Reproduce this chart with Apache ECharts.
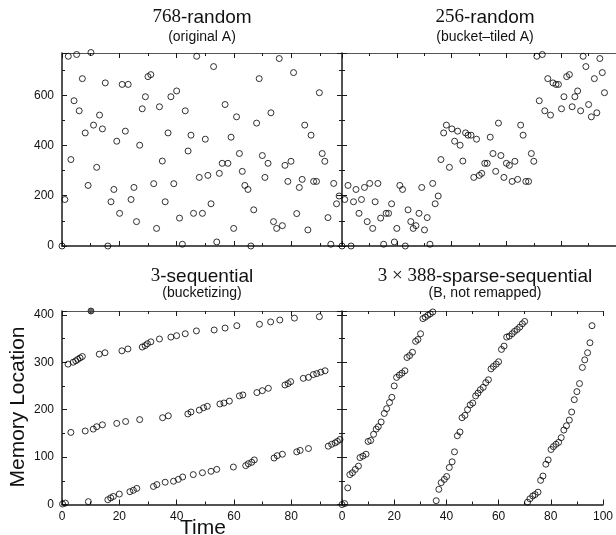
<!DOCTYPE html>
<html>
<head>
<meta charset="utf-8">
<script src="https://cdn.jsdelivr.net/npm/echarts@6/dist/echarts.min.js"></script>
<style>
html,body{margin:0;padding:0;background:#fff;}
#c{width:616px;height:535px;}
</style>
</head>
<body>
<div id="c"></div>
<script>
// ---- data: [time, memory location] ----
const origA = [[0,0],[1,185],[2.2,755],[3.1,344],[4.2,578],[5.1,762],[6,538],[7.1,666],[8.1,450],[9.1,241],[10.1,770],[11,481],[12.1,313],[13.1,521],[14.1,466],[15.1,649],[16,0],[17.1,176],[18.1,225],[19.1,417],[20.1,130],[21,643],[22.1,457],[23.1,643],[24.1,185],[25.1,233],[26,97],[27.1,401],[28,546],[29.1,594],[30,674],[31,682],[32,248],[33,70],[34,554],[35,338],[36,176],[37,450],[38,594],[39,248],[40,617],[41,111],[42,7],[43,538],[44,378],[45,441],[45.9,130],[47,755],[47.9,273],[49,130],[50,425],[50.9,281],[52,168],[52.9,714],[54,16],[54.9,289],[55.9,329],[56.9,563],[57.9,329],[59,433],[59.9,70],[60.9,514],[61.9,368],[62.9,297],[63.8,241],[64.9,225],[65.9,0],[66.9,144],[67.9,489],[68.8,666],[69.9,360],[70.8,273],[71.9,329],[72.9,530],[73.8,97],[74.9,70],[75.8,746],[76.9,81],[77.8,321],[78.8,257],[79.9,337],[80.8,690],[81.9,129],[82.8,233],[83.8,265],[84.7,481],[85.8,64],[86.9,441],[87.8,257],[88.8,257],[89.8,610],[90.8,368],[91.7,337],[92.8,113],[93.8,7],[94.8,249],[95.8,168],[96.7,199]];
const bucketA = [[0,0],[1,185],[2.2,241],[3.3,0],[4.2,176],[5.1,225],[6.2,130],[7.1,185],[8.2,233],[9.2,97],[10.1,249],[11.2,70],[12.1,176],[13.1,249],[14.1,111],[15.2,7],[16.1,130],[17,130],[18.1,168],[19.1,16],[20,70],[21.1,241],[22.1,225],[23.1,0],[24.1,144],[25.1,97],[26,70],[27,81],[28.1,130],[29.1,233],[30.1,64],[31.1,113],[32.1,7],[33.1,249],[34,168],[35.1,199],[36.1,344],[37.1,450],[38.1,481],[39.2,313],[40.1,466],[41.1,417],[42.2,457],[43.1,401],[44.1,338],[45.1,450],[46,441],[47.1,441],[48.1,273],[49.1,425],[50.1,281],[51,289],[52.1,329],[53,329],[54.1,433],[55.1,368],[56.1,297],[57.1,489],[58,360],[59.1,273],[60,329],[61.1,321],[62.1,257],[63.1,337],[64.1,265],[65.2,481],[66.1,441],[67.1,257],[68.1,257],[69.1,368],[70,337],[71.1,755],[72,578],[73.1,762],[74,538],[75.1,666],[76.1,521],[77,649],[78.1,643],[79,643],[80.1,546],[81,594],[82,674],[83,682],[84,554],[85,594],[86,617],[87.1,538],[88,755],[89,714],[90,563],[91,514],[92.1,666],[93,530],[94.1,746],[95,690],[95.8,610]];
const seqLow = [[0.2,1],[1.2,3],[9.2,6],[16,10],[17,14],[17.9,17],[20,22],[23.7,27],[24.9,30],[26.1,34],[31.9,38],[33.1,42],[36,47],[38.9,49],[40.6,53],[42.1,58],[45.8,63],[49,67],[52,70],[54,74],[59.8,79],[64.1,82],[65,86],[66.2,89],[67.1,94],[74,98],[75.1,103],[76.9,106],[81.9,111],[83.1,114],[86,118],[92.9,123],[94.1,127],[95.3,130],[96.1,133],[97,137]];
const seqMid = [[3.1,152],[8.1,155],[10.9,159],[12.1,164],[14.1,168],[19.1,171],[22.2,175],[27.1,179],[35.1,183],[37.1,187],[43.9,191],[45,195],[47.9,199],[49.4,204],[50.7,207],[55.1,212],[56.5,214],[58.4,218],[61.9,229],[63.1,231],[68,236],[69.9,240],[72,245],[77.8,252],[78.9,255],[79.8,259],[84.2,266],[86,268],[87.7,274],[88.9,276],[90.3,279],[91.8,282]];
const seqHigh = [[2.1,296],[3.9,300],[4.8,303],[5.5,306],[6.3,309],[7.1,312],[13,317],[15,320],[20.9,324],[23,328],[28,332],[29,335],[29.8,339],[31,343],[34,349],[38,353],[40,356],[43,360],[46.9,366],[53.1,368],[56.9,372],[61,377],[68.9,380],[72.8,385],[76,389],[81.1,393],[89.8,396]];
const seqMark = [[10.1,408]];
const sparse1 = [[0,0],[1,2],[2.2,35],[3,63],[4,67],[5.1,74],[6.3,81],[6.9,99],[8,102],[9.2,106],[10,133],[11,135],[12.1,148],[13.1,159],[13.9,164],[15,174],[16.2,192],[17.1,202],[18.2,215],[19.1,226],[20,250],[20.9,268],[22,273],[23,277],[24.1,282],[24.9,310],[25.9,314],[27,321],[28.2,344],[29.1,348],[30.1,360],[31,392],[31.9,395],[32.9,399],[33.8,402],[34.8,406]];
const sparse2 = [[36.1,8],[37.1,32],[38,46],[39.2,53],[40.1,59],[41.1,78],[42.2,90],[43.1,111],[44.2,145],[45.2,153],[46,183],[47.1,188],[48.1,200],[49.1,210],[50.1,214],[51.2,229],[52.1,235],[53,242],[54.1,247],[55.1,257],[56.1,263],[57.1,286],[58,291],[59.1,296],[60,301],[61.1,327],[62.1,334],[63.1,353],[64.1,355],[65.2,360],[66.1,365],[67.1,369],[68.1,374],[69.1,381],[70,386]];
const sparse3 = [[71.1,5],[72,12],[73.1,18],[74,21],[75.1,26],[76.1,51],[77,60],[78.1,85],[79,94],[80.1,116],[81,122],[82,127],[83,131],[84,141],[85,157],[86,166],[87.1,178],[88,195],[89,221],[90,238],[91,255],[92.1,289],[93,305],[94.1,320],[95,341],[95.8,377]];

const titleMain = [['768','-random'],['256','-random'],['3','-sequential'],['3 \u00d7 388','-sparse-sequential']];
const titleSub = ['(original A)','(bucket\u2013tiled A)','(bucketizing)','(B, not remapped)'];
const xTickStep = [20, 10];       // major, minor
const yTickTop = [200, 100];
const yTickBottom = [100, 50];

// ---- layout ----
const SANS = '"Liberation Sans", Arial, sans-serif';
const SERIF = '"Liberation Serif", "DejaVu Serif", serif';
const grids = [
  {left:62, top:53, width:280, height:193, xmax:97.7, ymax:768, yt:yTickTop, xl:false, yl:true, rightMirror:true},
  {left:342, top:53, width:286, height:193, xmax:100, ymax:768, yt:yTickTop, xl:false, yl:false, rightMirror:false},
  {left:62, top:311, width:280, height:193.5, xmax:97.7, ymax:408, yt:yTickBottom, xl:true, yl:true, rightMirror:true},
  {left:342, top:311, width:286, height:193.5, xmax:100, ymax:408, yt:yTickBottom, xl:true, yl:false, rightMirror:false}
];

const xAxes = [], yAxes = [], gridOpts = [];
const axisBlack = {color:'#1a1a1a', width:1.5};
const axisTop = {color:'#555', width:1.2};
const lblStyle = {fontFamily:'Liberation Sans', fontSize:12, color:'#111'};
const xIdx = [], yIdx = [];
grids.forEach((g, gi) => {
  gridOpts.push({left:g.left, top:g.top, width:g.width, height:g.height, containLabel:false});
  const mkX = (pos, step, len, line, label) => ({
    type:'value', gridIndex:gi, position:pos, min:0, max:g.xmax, interval:step,
    axisLine:{show:!!line, onZero:false, lineStyle:line||{}},
    axisTick:{show:true, inside:true, length:len, lineStyle:{color:'#1a1a1a', width:1}},
    axisLabel:{show:!!label, margin:6, ...lblStyle, formatter:v => (v % 20 === 0 ? String(v) : '')},
    splitLine:{show:false}
  });
  const mkY = (pos, step, len, line, label) => ({
    type:'value', gridIndex:gi, position:pos, min:0, max:g.ymax, interval:step,
    axisLine:{show:!!line, onZero:false, lineStyle:line||{}},
    axisTick:{show:true, inside:true, length:len, lineStyle:{color:'#1a1a1a', width:1}},
    axisLabel:{show:!!label, margin:8, ...lblStyle, formatter:v => (v % g.yt[0] === 0 ? String(v) : '')},
    splitLine:{show:false}
  });
  xIdx.push(xAxes.length);
  xAxes.push(mkX('bottom', xTickStep[0], 5, axisBlack, g.xl));
  xAxes.push(mkX('bottom', xTickStep[1], 3, null, false));
  xAxes.push(mkX('top', xTickStep[0], 5, axisTop, false));
  xAxes.push(mkX('top', xTickStep[1], 3, null, false));
  yIdx.push(yAxes.length);
  yAxes.push(mkY('left', g.yt[0], 5, axisBlack, g.yl));
  yAxes.push(mkY('left', g.yt[1], 3, null, false));
  if (g.rightMirror) {
    yAxes.push(mkY('right', g.yt[0], 5, null, false));
    yAxes.push(mkY('right', g.yt[1], 3, null, false));
  }
});

const hollow = {color:'rgba(0,0,0,0)', borderColor:'#000', borderWidth:1};
const sc = (data, gi, extra) => Object.assign({
  type:'scatter', xAxisIndex:xIdx[gi], yAxisIndex:yIdx[gi], data:data,
  symbol:'circle', symbolSize:6, itemStyle:hollow, clip:false, silent:true, animation:false
}, extra || {});

const series = [
  sc(origA, 0), sc(bucketA, 1),
  sc(seqLow, 2), sc(seqMid, 2), sc(seqHigh, 2),
  sc(seqMark, 2, {itemStyle:{color:'#444', borderColor:'#222', borderWidth:1}}),
  sc(sparse1, 3), sc(sparse2, 3), sc(sparse3, 3)
];

// measure text widths to place serif and sans parts of each title side by side
const mctx = document.createElement('canvas').getContext('2d');
function textW(str, font) { mctx.font = font; return mctx.measureText(str).width; }
const fSerif = '19px ' + SERIF, fSans = '19px ' + SANS;

const graphics = [];
const tpos = [[202,17.5,37],[485,17.5,37],[202,276.5,293.5],[485,276.5,293.5]];
titleMain.forEach((t, i) => {
  const w1 = textW(t[0], fSerif), w2 = textW(t[1], fSans);
  const x0 = tpos[i][0] - (w1 + w2) / 2;
  graphics.push({type:'text', style:{
    text:t[0], x:x0, y:tpos[i][1], font:fSerif, fill:'#111',
    align:'left', verticalAlign:'middle', textAlign:'left', textVerticalAlign:'middle'
  }});
  graphics.push({type:'text', style:{
    text:t[1], x:x0 + w1, y:tpos[i][1], font:fSans, fill:'#111',
    align:'left', verticalAlign:'middle', textAlign:'left', textVerticalAlign:'middle'
  }});
  graphics.push({type:'text', style:{
    text:titleSub[i], x:tpos[i][0], y:tpos[i][2], fill:'#111',
    font:'14px ' + SANS,
    align:'center', verticalAlign:'middle', textAlign:'center', textVerticalAlign:'middle'
  }});
});
graphics.push({type:'text', rotation:Math.PI/2, x:18.5, y:407, style:{
  text:'Memory Location', x:0, y:0, font:'21px ' + SANS, fill:'#111',
  align:'center', verticalAlign:'middle', textAlign:'center', textVerticalAlign:'middle'
}});
graphics.push({type:'text', style:{
  text:'Time', x:203, y:518, font:'21px ' + SANS, fill:'#111',
  align:'center', verticalAlign:'top', textAlign:'center', textVerticalAlign:'top'
}});

const chart = echarts.init(document.getElementById('c'), null, {renderer:'canvas'});
chart.setOption({
  animation:false,
  backgroundColor:'#fff',
  grid:gridOpts, xAxis:xAxes, yAxis:yAxes, series:series, graphic:graphics
});
</script>
</body>
</html>
